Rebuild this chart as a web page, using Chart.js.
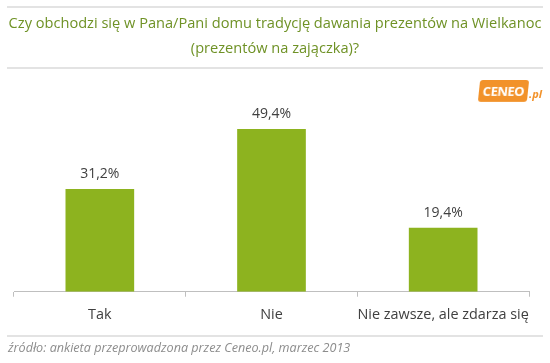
<!DOCTYPE html>
<html>
<head>
<meta charset="utf-8">
<script src="https://cdn.jsdelivr.net/npm/chart.js@4/dist/chart.umd.min.js"></script>
<style>
  body { margin: 0; background: #fff; font-family: "Open Sans", sans-serif; }
  #wrap { position: relative; width: 550px; height: 363px; overflow: hidden; }
  #chart { position: absolute; left: 0; top: 0; }
  .rule { position: absolute; left: 7px; width: 536px; height: 0; border-top: 2px solid #e3e3e3; }
  .title { position: absolute; left: 0; width: 550px; text-align: center; color: #6f9226; font-size: 14.6px; white-space: nowrap; }
  .source { position: absolute; left: 8px; top: 339px; color: #8c8c8c; font-size: 12.6px; font-style: italic; }
  .logo { position: absolute; left: 479px; top: 80px; width: 49px; height: 22px; background: #f2922a; border-radius: 3px; transform: skewX(-6deg);
          color: #fff; font-weight: bold; font-size: 13px; line-height: 22px; text-align: center; letter-spacing: -0.5px; }
  .pl { position: absolute; left: 529px; top: 86px; color: #f2922a; font-style: italic; font-weight: bold; font-size: 11px; }
</style>
</head>
<body>
<div id="wrap">
  <canvas id="chart" width="550" height="363"></canvas>
  <div class="rule" style="top:6px"></div>
  <div class="title" style="top:12px">Czy obchodzi się w Pana/Pani domu tradycję dawania prezentów na Wielkanoc</div>
  <div class="title" style="top:37px">(prezentów na zajączka)?</div>
  <div class="rule" style="top:67px"></div>
  <div class="logo">CENEO</div>
  <div class="pl">.pl</div>
  <div class="rule" style="top:335px"></div>
  <div class="source">źródło: ankieta przeprowadzona przez Ceneo.pl, marzec 2013</div>
</div>
<script>
// data
var categories = ["Tak", "Nie", "Nie zawsze, ale zdarza się"];
var values = [31.2, 49.4, 19.4];
var valueLabels = ["31,2%", "49,4%", "19,4%"];

// value labels above the bars
var barLabels = {
  id: 'barLabels',
  afterDatasetsDraw: function(chart) {
    var ctx = chart.ctx;
    var meta = chart.getDatasetMeta(0);
    ctx.save();
    ctx.fillStyle = '#404040';
    ctx.font = '14px "Open Sans"';
    ctx.textAlign = 'center';
    ctx.textBaseline = 'middle';
    meta.data.forEach(function(bar, i) {
      ctx.fillText(valueLabels[i], bar.x, bar.y - 15);
    });
    ctx.restore();
  }
};

var myBarChart = new Chart(document.getElementById('chart'), {
  type: 'bar',
  data: {
    labels: categories,
    datasets: [{
      data: values,
      backgroundColor: '#8db31f',
      categoryPercentage: 1,
      barPercentage: 0.4
    }]
  },
  options: {
    responsive: false,
    animation: false,
    layout: { padding: { left: 14, right: 21, top: 94, bottom: 29 } },
    plugins: { legend: { display: false }, tooltip: { enabled: false } },
    scales: {
      y: { display: false, min: 0, max: 60 },
      x: {
        grid: { drawOnChartArea: false, drawTicks: true, tickLength: 5, color: '#bfbfbf', offset: true },
        border: { color: '#bfbfbf' },
        ticks: { color: '#404040', font: { family: 'Open Sans', size: 14.4 }, padding: 10, maxRotation: 0, autoSkip: false }
      }
    }
  },
  plugins: [barLabels]
});
</script>
</body>
</html>
